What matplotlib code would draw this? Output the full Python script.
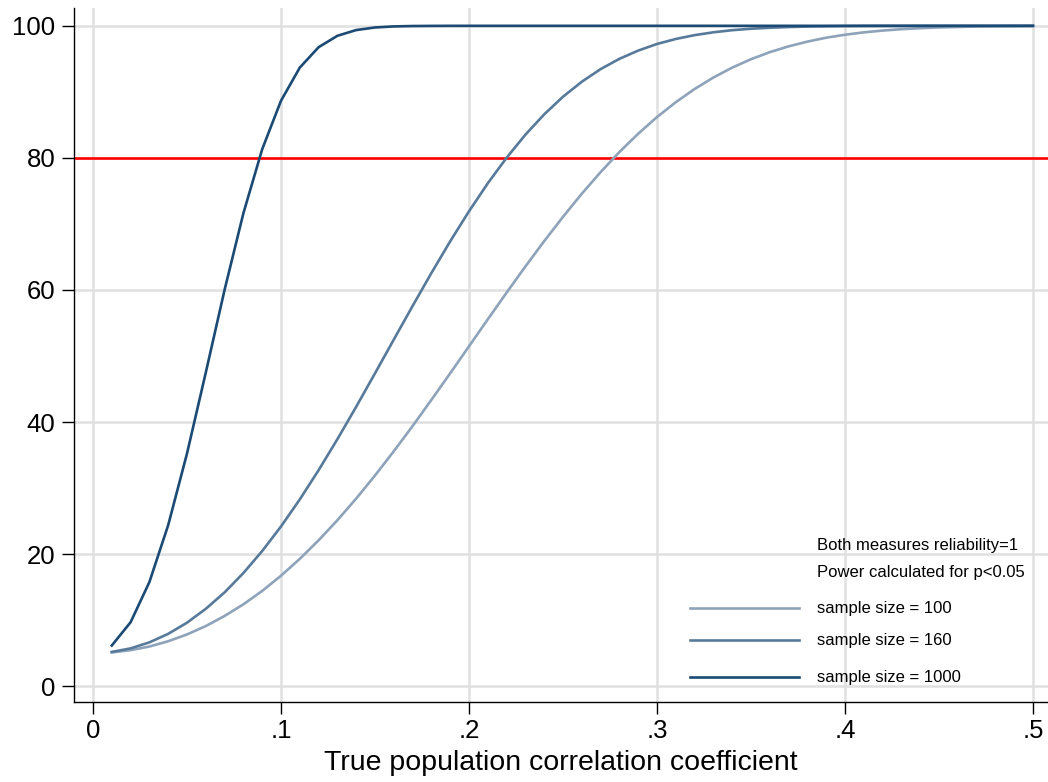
import numpy as np
import matplotlib
matplotlib.use("Agg")
import matplotlib.pyplot as plt

plt.rcParams['font.family'] = ['Liberation Sans', 'DejaVu Sans']

# true population correlation coefficient
r = [round(0.01 * i, 2) for i in range(1, 51)]

# power (%) for p<0.05
power_100 = [5.11, 5.45, 6.00, 6.80, 7.83, 9.10, 10.63, 12.39, 14.42, 16.72,
             19.28, 22.08, 25.13, 28.41, 31.90, 35.57, 39.39, 43.35, 47.38, 51.46,
             55.55, 59.59, 63.55, 67.39, 71.07, 74.57, 77.84, 80.88, 83.66, 86.18,
             88.43, 90.43, 92.17, 93.67, 94.94, 96.01, 96.89, 97.61, 98.20, 98.65,
             99.01, 99.28, 99.49, 99.64, 99.76, 99.83, 99.89, 99.93, 99.95, 99.97]
power_160 = [5.18, 5.72, 6.63, 7.92, 9.61, 11.71, 14.20, 17.13, 20.46, 24.18,
             28.28, 32.70, 37.40, 42.31, 47.37, 52.48, 57.57, 62.56, 67.36, 71.91,
             76.15, 80.02, 83.51, 86.59, 89.26, 91.53, 93.44, 95.00, 96.25, 97.25,
             98.01, 98.59, 99.02, 99.34, 99.56, 99.71, 99.82, 99.89, 99.93, 99.96,
             99.98, 99.99, 99.99, 100, 100, 100, 100, 100, 100, 100]
power_1000 = [6.15, 9.68, 15.76, 24.38, 35.22, 47.49, 60.02, 71.61, 81.31, 88.65,
              93.67, 96.76, 98.49, 99.36, 99.75, 99.91, 99.97, 99.99, 100, 100,
              100, 100, 100, 100, 100, 100, 100, 100, 100, 100,
              100, 100, 100, 100, 100, 100, 100, 100, 100, 100,
              100, 100, 100, 100, 100, 100, 100, 100, 100, 100]

series_labels = ["sample size = 100", "sample size = 160", "sample size = 1000"]
series_colors = ["#8ea3ba", "#587a9a", "#1b4a74"]
note_lines = ["Both measures reliability=1", "Power calculated for p<0.05"]
target_power = 80

fig = plt.figure(figsize=(10.48, 7.82), dpi=100)
ax = fig.add_axes([74 / 1048, 80 / 782, 974 / 1048, 694 / 782])

ax.set_xlim(-0.0101, 0.508)
ax.set_ylim(-2.4, 102.7)

ax.grid(True, color="#e0e0e0", linewidth=1.8)
ax.set_axisbelow(True)

ax.axhline(target_power, color="#ff0000", linewidth=1.9, zorder=2)

for vals, col in zip([power_100, power_160, power_1000], series_colors):
    ax.plot(r, vals, color=col, linewidth=1.9, zorder=3)

ax.set_xticks([0, 0.1, 0.2, 0.3, 0.4, 0.5])
ax.set_xticklabels(["0", ".1", ".2", ".3", ".4", ".5"])
ax.set_yticks([0, 20, 40, 60, 80, 100])
ax.tick_params(axis="both", direction="out", length=8.5, width=1.0,
               labelsize=18.5, color="black")
ax.tick_params(axis="x", pad=4)
ax.tick_params(axis="y", pad=5)

for s in ["top", "right"]:
    ax.spines[s].set_visible(False)
for s in ["left", "bottom"]:
    ax.spines[s].set_linewidth(1.0)

ax.set_xlabel("True population correlation coefficient", fontsize=20.5, labelpad=5)

# legend drawn by hand (two note rows with no key)
ty = [0.226, 0.186]
for yy, txt in zip(ty, note_lines):
    ax.text(0.763, yy, txt, transform=ax.transAxes, fontsize=12, va="center")
ly = [0.1354, 0.0893, 0.036]
for yy, txt, col in zip(ly, series_labels, series_colors):
    ax.plot([0.632, 0.7446], [yy, yy], transform=ax.transAxes, color=col,
            linewidth=1.9, clip_on=False)
    ax.text(0.763, yy, txt, transform=ax.transAxes, fontsize=12, va="center")

fig.savefig("out.png", dpi=100)
